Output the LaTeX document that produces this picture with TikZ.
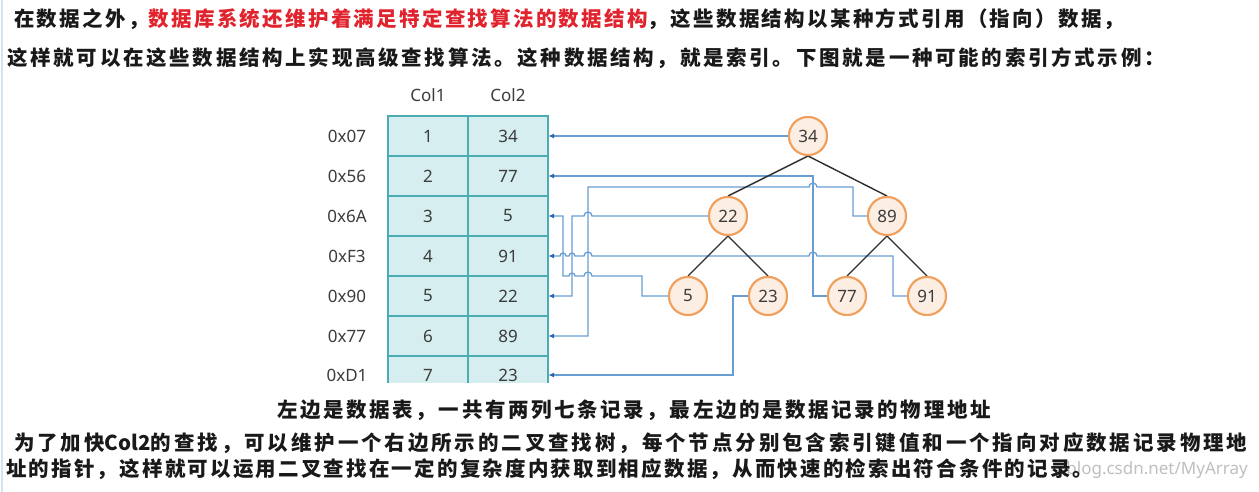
\documentclass[tikz,border=0pt]{standalone}
\usepackage{fontspec}
\setmainfont{Noto Sans}
\newfontfamily\cjkn{Noto Sans CJK SC}
\newfontfamily\cjka[LetterSpace=11.2]{Noto Sans CJK SC}
\newfontfamily\cjkb[LetterSpace=13.2]{Noto Sans CJK SC}
\newfontfamily\cjkc[LetterSpace=12.7]{Noto Sans CJK SC}
\newfontfamily\cjkd[LetterSpace=14.1]{Noto Sans CJK SC}
\newfontfamily\cjke[LetterSpace=10.7]{Noto Sans CJK SC}
\usetikzlibrary{arrows.meta}
\definecolor{hl}{RGB}{225,35,45}
\definecolor{ink}{RGB}{25,25,25}
\definecolor{tabfill}{RGB}{214,238,240}
\definecolor{tabline}{RGB}{75,172,178}
\definecolor{linkblue}{RGB}{105,158,210}
\definecolor{arrowblue}{RGB}{40,100,170}
\definecolor{nodefill}{RGB}{253,238,228}
\definecolor{nodeline}{RGB}{240,160,90}
\definecolor{edgecol}{RGB}{45,45,45}
\definecolor{leftblue}{RGB}{210,228,242}
\definecolor{cellink}{RGB}{60,60,60}
\begin{document}
\begin{tikzpicture}[x=1pt,y=-1pt,
  txt/.style={anchor=west,inner sep=0pt,text=ink,font=\fontsize{20.5}{25}\selectfont},
  cell/.style={inner sep=0pt,minimum width=80,minimum height=40,text=cellink,font=\fontsize{17}{20}\selectfont},
  addr/.style={inner sep=0pt,text=cellink,font=\fontsize{17}{20}\selectfont},
  tnode/.style={circle,inner sep=0pt,minimum size=38,line width=2,draw=nodeline,fill=nodefill,text=cellink,font=\fontsize{17}{20}\selectfont},
  tabedge/.style={draw=tabline,line width=2},
  link/.style={draw=linkblue,line width=1.3,-{Latex[length=6pt,width=5pt,color=arrowblue]}},
  tedge/.style={draw=edgecol,line width=1.4}]
\useasboundingbox (0,0) rectangle (1259,492);
\fill[white] (0,0) rectangle (1259,492);
\draw[leftblue,line width=2] (1.5,0) -- (1.5,492);

% top text
\node[txt] (l1) at (14,19) {\cjka\bfseries 在数据之外，\textcolor{hl}{数据库系统还维护着满足特定查找算法的数据结构}，这些数据结构以某种方式引用（指向）数据，};
\node[txt] (l2) at (7,58) {\cjkb\bfseries 这样就可以在这些数据结构上实现高级查找算法。这种数据结构，就是索引。下图就是一种可能的索引方式示例：};

% table
\fill[tabfill] (388,116) rectangle (548,383);
\draw[tabedge] (388,383) -- (388,116) -- (548,116) -- (548,383);
\draw[tabedge] (468,116) -- (468,383);
\foreach \yy in {156,196,236,276,316,356} \draw[tabedge] (388,\yy) -- (548,\yy);

\node[addr] (h1) at (428,95) {Col1};
\node[addr] (h2) at (508,95) {Col2};

\node[addr] (r1) at (347,136) {0x07};
\node[addr] (r2) at (347,176) {0x56};
\node[addr] (r3) at (347,216) {0x6A};
\node[addr] (r4) at (347,256) {0xF3};
\node[addr] (r5) at (347,296) {0x90};
\node[addr] (r6) at (347,336) {0x77};
\node[addr] (r7) at (347,375) {0xD1};

\node[cell] (a1) at (428,136) {1};
\node[cell] (a2) at (428,176) {2};
\node[cell] (a3) at (428,216) {3};
\node[cell] (a4) at (428,256) {4};
\node[cell] (a5) at (428,296) {5};
\node[cell] (a6) at (428,336) {6};
\node[cell] (a7) at (428,375) {7};
\node[cell] (b1) at (508,136) {34};
\node[cell] (b2) at (508,176) {77};
\node[cell] (b3) at (508,216) {5};
\node[cell] (b4) at (508,256) {91};
\node[cell] (b5) at (508,296) {22};
\node[cell] (b6) at (508,336) {89};
\node[cell] (b7) at (508,375) {23};

% tree nodes (positions)
\path (808,136) node[tnode] (n34) {34}
      (728,216) node[tnode] (n22) {22}
      (887,216) node[tnode] (n89) {89}
      (688,296) node[tnode] (n5) {5}
      (768,296) node[tnode] (n23) {23}
      (847,296) node[tnode] (n77) {77}
      (927,296) node[tnode] (n91) {91};

% links
\draw[link] (n34.west) -- (b1.east);
\draw[link] (n77.west) -- (813,296) -- (813,176) -- (b2.east);
\draw[link] (n89.west) -- (853,216) -- (853,187) -- (817,187) arc[start angle=0,end angle=180,radius=4pt] -- (588,187) -- (588,336) -- (b6.east);
\draw[link] (n22.west) -- (592,216) arc[start angle=0,end angle=180,radius=4pt] -- (572,216) -- (572,296) -- (b5.east);
\draw[link] (n5.west) -- (642,296) -- (642,276) -- (592,276) arc[start angle=0,end angle=180,radius=4pt] -- (575,276) arc[start angle=0,end angle=180,radius=3pt] -- (563,276) -- (563,216) -- (b3.east);
\draw[link] (n91.west) -- (893,296) -- (893,256) -- (817,256) arc[start angle=0,end angle=180,radius=4pt] -- (592,256) arc[start angle=0,end angle=180,radius=4pt] -- (575,256) arc[start angle=0,end angle=180,radius=3pt] -- (566,256) arc[start angle=0,end angle=180,radius=3pt] -- (b4.east);
\draw[link] (n23.west) -- (733,296) -- (733,375) -- (b7.east);

% tree edges
\draw[tedge] (n34.south) -- (n22.north);
\draw[tedge] (n34.south) -- (n89.north);
\draw[tedge] (n22.south) -- (n5.north);
\draw[tedge] (n22.south) -- (n23.north);
\draw[tedge] (n89.south) -- (n77.north);
\draw[tedge] (n89.south) -- (n91.north);

% redraw nodes on top
\path (808,136) node[tnode] {34}
      (728,216) node[tnode] {22}
      (887,216) node[tnode] {89}
      (688,296) node[tnode] {5}
      (768,296) node[tnode] {23}
      (847,296) node[tnode] {77}
      (927,296) node[tnode] {91};

% bottom text
\node[txt] (cap) at (277,410) {\cjkc\bfseries 左边是数据表，一共有两列七条记录，最左边的是数据记录的物理地址};
\node[anchor=east,inner sep=0pt,text=black!25,font=\fontsize{17}{20}\selectfont] (wm) at (1248,470) {blog.csdn.net/MyArray};
\node[txt] (p1) at (14,443) {\cjkd\bfseries 为了加快{\cjkn\bfseries Col2}的查找，可以维护一个右边所示的二叉查找树，每个节点分别包含索引键值和一个指向对应数据记录物理地};
\node[txt] (p2) at (6,469) {\cjke\bfseries 址的指针，这样就可以运用二叉查找在一定的复杂度内获取到相应数据，从而快速的检索出符合条件的记录。};
\end{tikzpicture}
\end{document}
